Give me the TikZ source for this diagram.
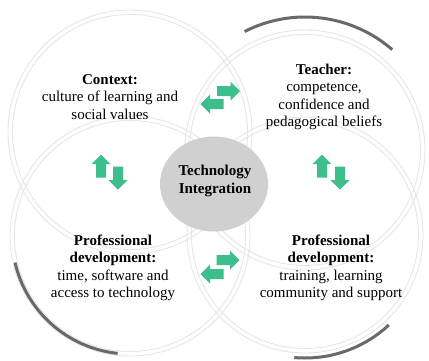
\documentclass[tikz,border=0pt]{standalone}
\usepackage{fontspec}
\setmainfont{Liberation Serif}
\usetikzlibrary{shapes.geometric}
\definecolor{arrowgreen}{RGB}{62,190,140}
\definecolor{ringgray}{RGB}{230,230,230}
\definecolor{arcgray}{RGB}{105,105,105}
\definecolor{centergray}{RGB}{208,208,208}
\tikzset{
  ring/.style={draw=ringgray, line width=0.9pt},
  darkarc/.style={draw=arcgray, line width=3pt},
  label/.style={align=center, font=\fontsize{15}{17.5}\selectfont, inner sep=0pt},
  blockarrow/.pic={\fill[arrowgreen] (-11.5,-5) -- (2,-5) -- (2,-9.5) -- (11.5,0) -- (2,9.5) -- (2,5) -- (-11.5,5) -- cycle;}
}
\begin{document}
\begin{tikzpicture}[x=1pt,y=-1pt]
\useasboundingbox[fill=white] (0,0) rectangle (429,360);
% circles
\coordinate (tl) at (130,132);
\coordinate (tr) at (305,150);
\coordinate (bl) at (130,236);
\coordinate (br) at (305,235);
\foreach \c/\r in {tl/122, tr/120, bl/120, br/118}{
  \draw[ring] (\c) circle[radius=\r];
  \draw[ring] (\c) circle[radius=\r-4.5];
}
% dark arcs
\draw[darkarc] (tr) ++(-49:133) arc[start angle=-49, end angle=-117, radius=133];
\draw[darkarc] (bl) ++(167:118) arc[start angle=167, end angle=96, radius=118];
\draw[darkarc] (br) ++(95:123) arc[start angle=95, end angle=47, radius=123];
% center
\node[ellipse, fill=centergray, minimum width=108pt, minimum height=95pt, inner sep=0pt] (center) at (214,184) {};
\node[label, font=\fontsize{15}{18}\selectfont\bfseries] (tech) at (215,181) {Technology\\Integration};
% labels
\node[label] (context) at (110,97) {\textbf{Context:}\\culture of learning and\\social values};
\node[label] (teacher) at (324,97) {\textbf{Teacher:}\\competence,\\confidence and\\pedagogical beliefs};
\node[label] (pdl) at (113,268) {\textbf{Professional}\\\textbf{development:}\\time, software and\\access to technology};
\node[label] (pdr) at (331,268) {\textbf{Professional}\\\textbf{development:}\\training, learning\\community and support};
% arrows
\pic at (228.5,91) {blockarrow};
\pic[rotate=180] at (212,104) {blockarrow};
\pic at (228,260) {blockarrow};
\pic[rotate=180] at (212,274) {blockarrow};
\pic[rotate=90] at (101,166) {blockarrow};
\pic[rotate=-90] at (118,178) {blockarrow};
\pic[rotate=90] at (322,166) {blockarrow};
\pic[rotate=-90] at (340,178) {blockarrow};
\end{tikzpicture}
\end{document}
